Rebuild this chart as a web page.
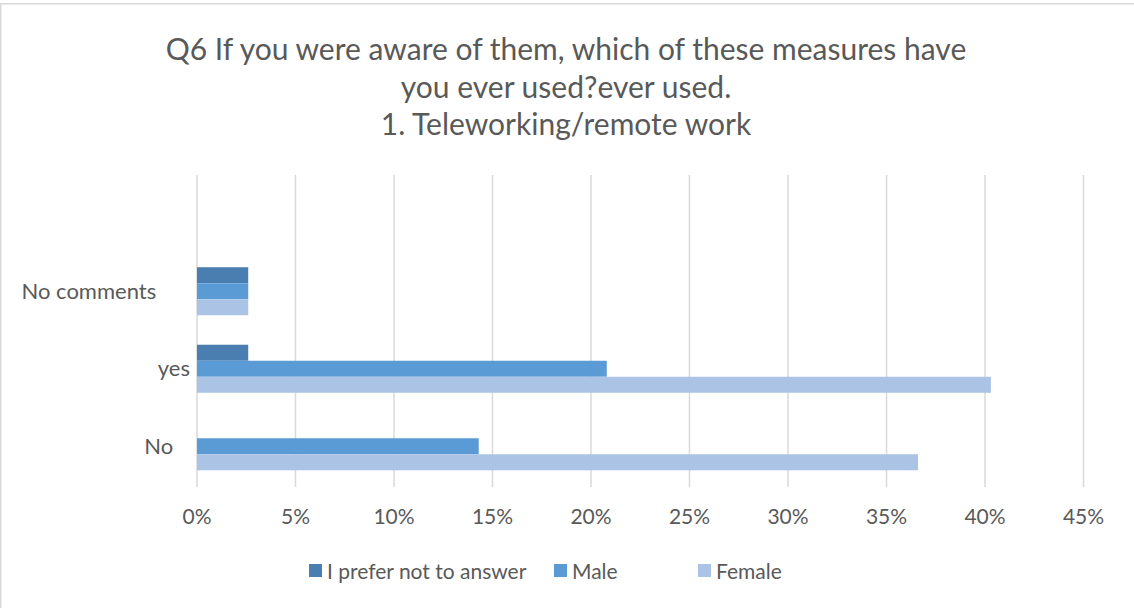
<!DOCTYPE html>
<html>
<head>
<meta charset="utf-8">
<script src="https://cdn.jsdelivr.net/npm/d3@7"></script>
<style>
    html, body { margin: 0; padding: 0; background: #fff; }
    svg { display: block; }
    text { font-family: Lato, "Liberation Sans", sans-serif; fill: #595959; }
</style>
</head>
<body>
<div id="chart"></div>
<script>
// chart data
const titleLines = [
    'Q6 If you were aware of them, which of these measures have',
    'you ever used?ever used.',
    '1. Teleworking/remote work',
];
// top slot is an empty category, as in the source sheet
const categories = ['', 'No comments', 'yes', 'No'];
const categoryLabels = ['', 'No comments      ', 'yes', 'No   '];
const seriesNames = ['I prefer not to answer', 'Male', 'Female'];
const seriesColors = ['#4a7db0', '#5b9bd5', '#abc4e5'];
const preferNotValues = [null, 2.6, 2.6, 0];
const maleValues = [null, 2.6, 20.8, 14.3];
const femaleValues = [null, 2.6, 40.3, 36.6];
const xTicks = [0, 5, 10, 15, 20, 25, 30, 35, 40, 45];

const width = 1134;
const height = 608;
const margin = { top: 175, right: 50, bottom: 123, left: 197 };

const series = [preferNotValues, maleValues, femaleValues];

const svg = d3
    .select('#chart')
    .append('svg')
    .attr('width', width)
    .attr('height', height)
    .attr('viewBox', [0, 0, width, height]);

// outer chart border
svg.append('rect')
    .attr('x', 0.75)
    .attr('y', 3.75)
    .attr('width', width + 10)
    .attr('height', height)
    .attr('fill', 'none')
    .attr('stroke', '#d9d9d9')
    .attr('stroke-width', 1.5);

const x = d3
    .scaleLinear()
    .domain([0, 45])
    .range([margin.left, margin.left + 98.5 * 9]);

const y = d3
    .scaleBand()
    .domain(categories)
    .range([margin.top, height - margin.bottom]);

const inner = d3
    .scaleBand()
    .domain(seriesNames)
    .range([0, y.bandwidth()])
    .paddingInner(0)
    .paddingOuter(0.92);

// title, clipped at the bottom like the original
svg.append('clipPath')
    .attr('id', 'titleClip')
    .append('rect')
    .attr('x', 0)
    .attr('y', 0)
    .attr('width', width)
    .attr('height', 140);

svg.append('g')
    .attr('clip-path', 'url(#titleClip)')
    .selectAll('text')
    .data(titleLines)
    .enter()
    .append('text')
    .attr('x', 566)
    .attr('y', (d, i) => 60 + i * 37.5)
    .attr('text-anchor', 'middle')
    .style('font-size', '30px')
    .text((d) => d);

// gridlines
svg.append('g')
    .selectAll('line')
    .data(xTicks)
    .enter()
    .append('line')
    .attr('x1', (d) => x(d))
    .attr('x2', (d) => x(d))
    .attr('y1', margin.top)
    .attr('y2', height - margin.bottom + 2)
    .attr('stroke', '#d9d9d9')
    .attr('stroke-width', 1.5);

// x tick labels
svg.append('g')
    .selectAll('text')
    .data(xTicks)
    .enter()
    .append('text')
    .attr('x', (d) => x(d))
    .attr('y', 524)
    .attr('text-anchor', 'middle')
    .style('font-size', '21px')
    .text((d) => `${ d }%`);

// category labels
svg.append('g')
    .selectAll('text')
    .data(categories)
    .enter()
    .append('text')
    .attr('x', margin.left - 7)
    .attr('y', (d) => y(d) + y.bandwidth() / 2)
    .attr('dy', '0.35em')
    .attr('text-anchor', 'end')
    .attr('xml:space', 'preserve')
    .style('font-size', '22px')
    .style('white-space', 'pre')
    .text((d, i) => categoryLabels[i]);

// bars
series.forEach((values, s) => {
    svg.append('g')
        .selectAll('rect')
        .data(categories.map((c, i) => ({ c, v: values[i] })).filter((d) => d.v))
        .enter()
        .append('rect')
        .attr('x', x(0))
        .attr('y', (d) => y(d.c) + inner(seriesNames[s]))
        .attr('width', (d) => x(d.v) - x(0))
        .attr('height', inner.bandwidth())
        .attr('fill', seriesColors[s]);
});

// legend
const legendX = [309, 554, 698];
const legend = svg
    .append('g')
    .selectAll('g')
    .data(seriesNames)
    .enter()
    .append('g')
    .attr('transform', (d, i) => `translate(${ legendX[i] }, 564)`);

legend
    .append('rect')
    .attr('width', 13)
    .attr('height', 13)
    .attr('fill', (d, i) => seriesColors[i]);

legend
    .append('text')
    .attr('x', 18)
    .attr('y', 15)
    .style('font-size', '21px')
    .text((d) => d);
</script>
</body>
</html>
